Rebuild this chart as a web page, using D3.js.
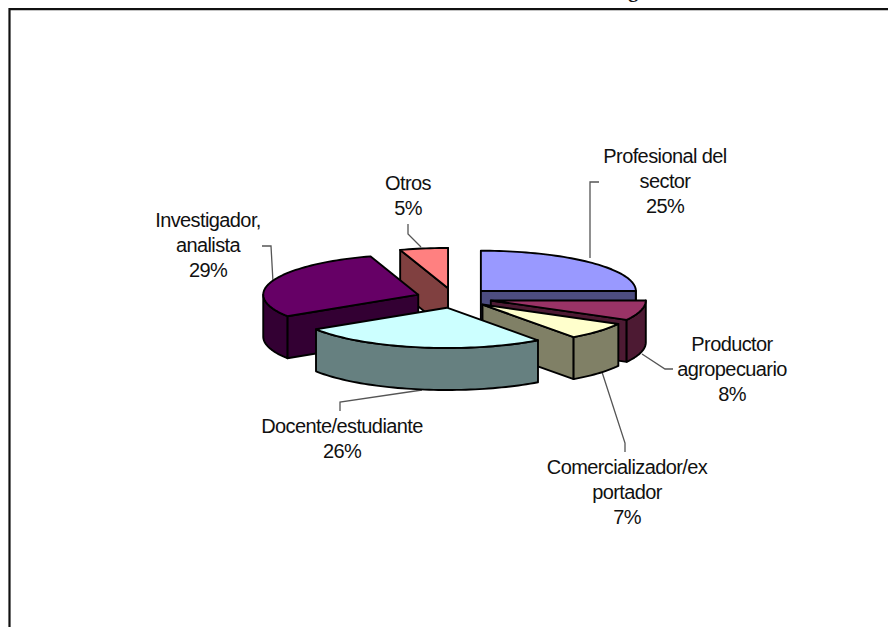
<!DOCTYPE html>
<html><head><meta charset="utf-8">
<script src="https://cdn.jsdelivr.net/npm/d3@7"></script>
<style>html,body{margin:0;padding:0;background:#fff;overflow:hidden}svg{display:block}
text{font-family:"Liberation Sans",Arial,sans-serif;font-size:20px;letter-spacing:-0.6px;fill:#111;text-anchor:middle}</style>
</head><body><svg id="c" width="888" height="627"></svg>
<script>
const categories=["Profesional del sector","Productor agropecuario","Comercializador/exportador","Docente/estudiante","Investigador, analista","Otros"];
const shares=[25,8,7,26,29,5];
const topColors=["#9999FF","#993366","#FFFFCC","#CCFFFF","#660066","#FF8080"];
const sideColors=["#4D4D80","#4D1A33","#808066","#668080","#330033","#804040"];
const labelLines=[["Profesional del","sector","25%"],["Productor","agropecuario","8%"],["Comercializador/ex","portador","7%"],["Docente/estudiante","26%"],["Investigador,","analista","29%"],["Otros","5%"]];
const labelAnchors=[[665,163],[732,351],[627,474],[342,433],[208,227],[408,190]];
const leaders=[[[599,182],[590,182],[590,258]],[[673,369],[665,369],[642,354]],[[625,452],[625,443],[602,372]],[[340,411],[340,402],[422,390]],[[262,246],[271,246],[273,282]],[[408,224],[408,234],[421,247]]];
const drawOrder=[5,0,4,1,2,3];

const svg=d3.select("#c");
svg.append("path").attr("d","M9.5,627V9.2H888").attr("fill","none").attr("stroke","#111").attr("stroke-width",2.2);
svg.append("text").attr("x",633).attr("y",-3).style("font-family","'Liberation Serif',serif").style("font-weight","bold").text("g");

const cx=454,cy=298,rx=155,ratio=0.26,depth=42,explode=38;
const X=d3.scaleLinear().domain([-1,1]).range([-rx,rx]);
const Y=d3.scaleLinear().domain([-1,1]).range([-rx*ratio,rx*ratio]);
const arcs=d3.pie().sort(null).startAngle(0).endAngle(2*Math.PI)(shares);
const line=d3.line().x(d=>d[0]).y(d=>d[1]);
function pt(o,a,dz){return [o[0]+X(Math.sin(a)),o[1]+Y(-Math.cos(a))+dz];}
function arcPts(o,a,b,dz){const n=Math.max(2,Math.ceil((b-a)/0.03));return d3.range(n+1).map(i=>pt(o,a+(b-a)*i/n,dz));}
function face(pts,fill){svg.append("path").attr("d",line(pts)+"Z").attr("fill",fill).attr("stroke","#000").attr("stroke-width",1.9).attr("stroke-linejoin","round");}

leaders.forEach(l=>svg.append("path").attr("d",line(l)).attr("fill","none").attr("stroke","#555").attr("stroke-width",1.3));

drawOrder.forEach(i=>{
  const s=arcs[i],a=s.startAngle,b=s.endAngle,m=(a+b)/2;
  const o=[cx+explode*Math.sin(m),cy-explode*ratio*Math.cos(m)];
  if(Math.sin(a)<0)face([o,pt(o,a,0),pt(o,a,depth),[o[0],o[1]+depth]],sideColors[i]);
  if(Math.sin(b)>0)face([o,pt(o,b,0),pt(o,b,depth),[o[0],o[1]+depth]],sideColors[i]);
  const ra=Math.max(a,Math.PI/2),rb=Math.min(b,3*Math.PI/2);
  if(rb>ra)face(arcPts(o,ra,rb,0).concat(arcPts(o,ra,rb,depth).reverse()),sideColors[i]);
  face([o].concat(arcPts(o,a,b,0)),topColors[i]);
});

labelLines.forEach((ls,i)=>{
  const t=svg.append("text").attr("x",labelAnchors[i][0]).attr("y",labelAnchors[i][1]);
  ls.forEach((l,k)=>t.append("tspan").attr("x",labelAnchors[i][0]).attr("dy",k?25:0).text(l));
});
</script></body></html>
